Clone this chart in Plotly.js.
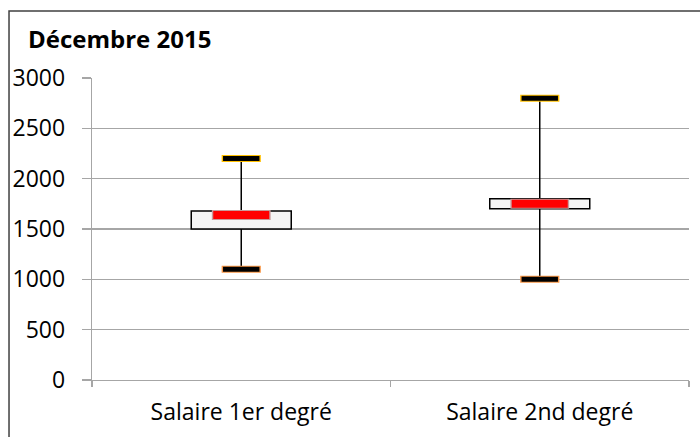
<!DOCTYPE html>
<html><head><meta charset="utf-8">
<script src="https://cdn.plot.ly/plotly-3.0.1.min.js"></script>
<style>html,body{margin:0;padding:0;background:#fff}#chart{width:700px;height:437px}</style>
</head><body><div id="chart"></div>
<script>
const categories = ['Salaire 1er degré', 'Salaire 2nd degré'];
const minValues = [1100, 1000];
const q1Values = [1500, 1700];
const medianValues = [1640, 1750];
const q3Values = [1680, 1800];
const maxValues = [2200, 2800];
const yTicks = [0, 500, 1000, 1500, 2000, 2500, 3000];

const FONT = 'Open Sans, Lato, sans-serif';

const wx = [], wy = [];
categories.forEach((c, i) => {
  wx.push(c, c, null, c, c, null);
  wy.push(minValues[i], q1Values[i], null, q3Values[i], maxValues[i], null);
});

function capTrace(yvals, color, size, lw) {
  return {type: 'scatter', mode: 'markers', x: categories, y: yvals, hoverinfo: 'skip',
    marker: {symbol: 'line-ew', size: size, color: color, line: {color: color, width: lw}}};
}

const traces = [
  {type: 'bar', x: categories, base: q1Values, y: q3Values.map((v, i) => v - q1Values[i]),
   width: 0.335, marker: {color: '#f5f5f5', line: {color: '#000000', width: 1.5}}, hoverinfo: 'skip'},
  {type: 'scatter', mode: 'lines', x: wx, y: wy, line: {color: '#000000', width: 1.5}, hoverinfo: 'skip', connectgaps: false},
  capTrace(medianValues, '#c99a9a', 42, 10),
  capTrace(medianValues, '#ff0000', 40, 8),
  capTrace(maxValues, '#ffc000', 28, 7),
  capTrace(maxValues, '#000000', 26, 5),
  capTrace(minValues, '#f79646', 28, 7),
  capTrace(minValues, '#000000', 26, 5)
];

const layout = {
  width: 700, height: 437,
  margin: {l: 92, r: 11, t: 78, b: 57},
  paper_bgcolor: '#ffffff', plot_bgcolor: '#ffffff',
  showlegend: false,
  font: {family: FONT, color: '#000000', size: 22},
  title: {text: '<b>Décembre 2015</b>', font: {family: FONT, size: 24, color: '#000000'},
    xref: 'container', yref: 'container', x: 28 / 700, xanchor: 'left', y: 1 - 40 / 437, yanchor: 'middle'},
  xaxis: {type: 'category', range: [-0.5, 1.5], showgrid: false, showline: true, linecolor: '#a6a6a6', linewidth: 1.3,
    ticks: 'outside', tickson: 'boundaries', ticklen: 6, tickcolor: '#a6a6a6', tickwidth: 1.3, ticklabelstandoff: 11,
    tickfont: {family: FONT, size: 23, color: '#000000'}, fixedrange: true},
  yaxis: {range: [0, 3000], tickvals: yTicks, ticktext: yTicks.map(String), showgrid: true, gridcolor: '#a6a6a6', gridwidth: 1.3,
    showline: true, linecolor: '#a6a6a6', linewidth: 1.3, zeroline: false,
    ticks: 'outside', ticklen: 9, tickcolor: '#a6a6a6', tickwidth: 1.3, ticklabelstandoff: 12,
    tickfont: {family: FONT, size: 23, color: '#000000'}, fixedrange: true},
  shapes: [{type: 'path', xref: 'paper', yref: 'paper',
    path: 'M -0.139,-0.3 L -0.139,1.2219 L 1.05,1.2219', line: {color: '#404040', width: 1.5}}]
};

Plotly.newPlot('chart', traces, layout, {displayModeBar: false, staticPlot: true});
</script></body></html>
